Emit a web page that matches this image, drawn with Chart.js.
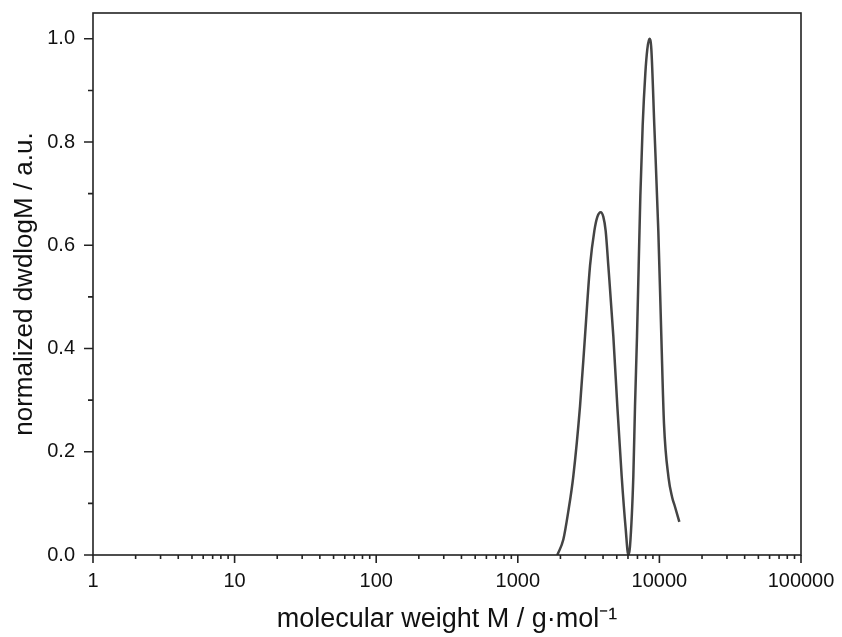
<!DOCTYPE html>
<html><head><meta charset="utf-8">
<script src="https://cdn.jsdelivr.net/npm/chart.js@4/dist/chart.umd.min.js"></script>
<style>html,body{margin:0;padding:0;background:#fff}canvas{display:block}</style>
</head><body>
<canvas id="c" width="842" height="637"></canvas>
<script>
// molecular weight M / g·mol-1
const molecularWeight = [1902, 2097, 2275, 2467, 2750, 2983, 3236, 3472, 3646, 3848, 4019, 4174, 4359, 4727, 5046, 5414, 5778, 6035, 6200, 6546, 6726, 6948, 7139, 7336, 7617, 7955, 8217, 8491, 8770, 9208, 9826, 10318, 10777, 11600, 12300, 12900, 13830];
// normalized dwdlogM / a.u.
const dwdlogM = [0.0, 0.030, 0.085, 0.153, 0.288, 0.424, 0.560, 0.628, 0.655, 0.664, 0.655, 0.628, 0.560, 0.424, 0.288, 0.153, 0.051, 0.0, 0.017, 0.153, 0.288, 0.424, 0.560, 0.696, 0.831, 0.933, 0.980, 1.0, 0.980, 0.831, 0.628, 0.424, 0.254, 0.150, 0.112, 0.093, 0.064];

const xMajorTicks = [1, 10, 100, 1000, 10000, 100000];
const xTickLabels = ['1', '10', '100', '1000', '10000', '100000'];
const xMinorTicks = [2,3,4,5,6,7,8,9, 20,30,40,50,60,70,80,90, 200,300,400,500,600,700,800,900,
  2000,3000,4000,5000,6000,7000,8000,9000, 20000,30000,40000,50000,60000,70000,80000,90000];
const yMajorTicks = [0, 0.2, 0.4, 0.6, 0.8, 1.0];
const yTickLabels = ['0.0', '0.2', '0.4', '0.6', '0.8', '1.0'];
const yMinorTicks = [0.1, 0.3, 0.5, 0.7, 0.9];

const FONT = '"Liberation Sans", Arial, Helvetica, sans-serif';
const INK = '#111';

const framePlugin = {
  id: 'frame',
  afterDatasetsDraw(chart) {
    const {ctx, chartArea: a, scales: {x, y}} = chart;
    ctx.save();
    ctx.strokeStyle = '#222';
    ctx.lineWidth = 1.6;
    ctx.strokeRect(a.left, a.top, a.right - a.left, a.bottom - a.top);
    ctx.beginPath();
    xMajorTicks.forEach(v => { const p = x.getPixelForValue(v); ctx.moveTo(p, a.bottom); ctx.lineTo(p, a.bottom + 8); });
    xMinorTicks.forEach(v => { const p = x.getPixelForValue(v); ctx.moveTo(p, a.bottom); ctx.lineTo(p, a.bottom + 4); });
    yMajorTicks.forEach(v => { const p = y.getPixelForValue(v); ctx.moveTo(a.left, p); ctx.lineTo(a.left - 9, p); });
    yMinorTicks.forEach(v => { const p = y.getPixelForValue(v); ctx.moveTo(a.left, p); ctx.lineTo(a.left - 5, p); });
    ctx.stroke();
    ctx.restore();
  }
};

new Chart(document.getElementById('c').getContext('2d'), {
  type: 'line',
  data: {
    datasets: [{
      data: molecularWeight.map((m, i) => ({x: m, y: dwdlogM[i]})),
      borderColor: '#444',
      borderWidth: 2.5,
      pointRadius: 0,
      fill: false,
      cubicInterpolationMode: 'monotone'
    }]
  },
  options: {
    responsive: false,
    animation: false,
    devicePixelRatio: 1,
    layout: {padding: {top: 13, right: 41, left: 0, bottom: 0}},
    plugins: {legend: {display: false}, tooltip: {enabled: false}},
    scales: {
      x: {
        type: 'logarithmic', min: 1, max: 100000, position: 'bottom',
        afterBuildTicks: s => { s.ticks = xMajorTicks.map(v => ({value: v})); },
        afterFit: s => { s.height = 82; s.paddingLeft = 0; s.paddingRight = 0; s.paddingTop = 0; s.paddingBottom = 0; },
        grid: {display: false, drawTicks: false},
        border: {display: false},
        ticks: {autoSkip: false, maxRotation: 0, padding: 14, color: INK,
          font: {family: FONT, size: 20},
          callback: (v, i) => xTickLabels[i]},
        title: {display: true, text: 'molecular weight M / g·mol⁻¹', color: INK,
          font: {family: FONT, size: 27, lineHeight: 1}, padding: {top: 0, bottom: 4}}
      },
      y: {
        type: 'linear', min: 0, max: 1.05, position: 'left',
        afterBuildTicks: s => { s.ticks = yMajorTicks.map(v => ({value: v})); },
        afterFit: s => { s.width = 93; s.paddingLeft = 0; s.paddingRight = 0; s.paddingTop = 0; s.paddingBottom = 0; },
        grid: {display: false, drawTicks: false},
        border: {display: false},
        ticks: {autoSkip: false, padding: 18, color: INK,
          font: {family: FONT, size: 20},
          callback: (v, i) => yTickLabels[i]},
        title: {display: true, text: 'normalized dwdlogM / a.u.', color: INK,
          font: {family: FONT, size: 26, lineHeight: 1}, padding: {top: 12, bottom: 0}}
      }
    }
  },
  plugins: [framePlugin]
});
</script>
</body></html>
